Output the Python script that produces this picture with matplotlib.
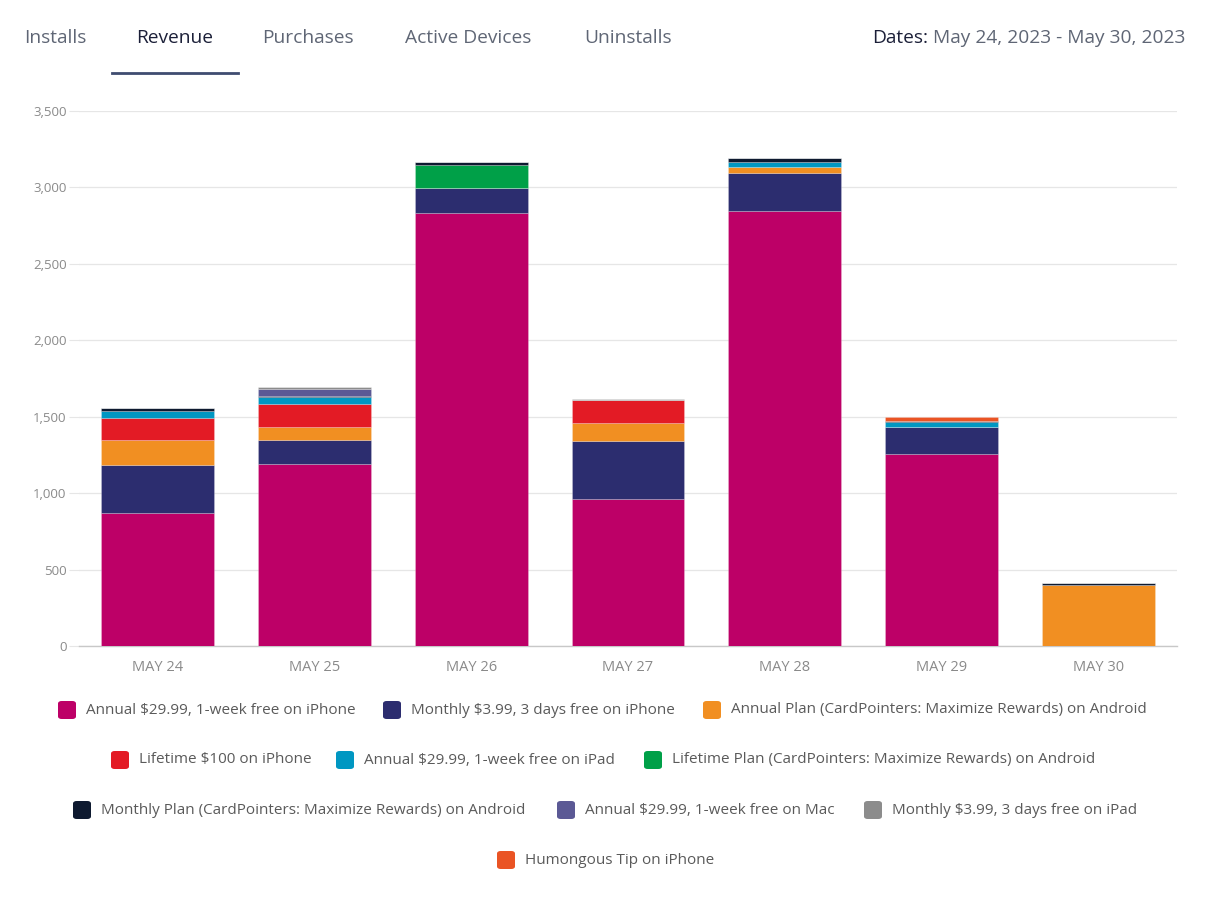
import matplotlib.pyplot as plt
import matplotlib
from matplotlib.patches import FancyBboxPatch
from matplotlib.ticker import FuncFormatter

matplotlib.rcParams.update({'font.family': ['Open Sans', 'DejaVu Sans']})

days = ['MAY 24', 'MAY 25', 'MAY 26', 'MAY 27', 'MAY 28', 'MAY 29', 'MAY 30']

series_names = [
    'Annual $29.99, 1-week free on iPhone',
    'Monthly $3.99, 3 days free on iPhone',
    'Annual Plan (CardPointers: Maximize Rewards) on Android',
    'Lifetime $100 on iPhone',
    'Annual $29.99, 1-week free on iPad',
    'Lifetime Plan (CardPointers: Maximize Rewards) on Android',
    'Monthly Plan (CardPointers: Maximize Rewards) on Android',
    'Annual $29.99, 1-week free on Mac',
    'Monthly $3.99, 3 days free on iPad',
    'Humongous Tip on iPhone',
]

annual_iphone = [870, 1190, 2832, 961, 2845, 1256, 0]
monthly_iphone = [314, 157, 165, 378, 249, 178, 0]
annual_android = [163, 83, 0, 119, 39, 0, 401]
lifetime_iphone = [144, 150, 0, 151, 0, 0, 0]
annual_ipad = [46, 50, 0, 0, 33, 31, 0]
lifetime_android = [0, 0, 151, 0, 0, 0, 0]
monthly_android = [18, 7, 17, 0, 26, 7, 8]
annual_mac = [0, 42, 0, 0, 0, 0, 0]
monthly_ipad = [0, 13, 0, 4, 0, 0, 0]
humongous_tip = [0, 0, 0, 0, 0, 24, 0]

series_values = [annual_iphone, monthly_iphone, annual_android, lifetime_iphone,
                 annual_ipad, lifetime_android, monthly_android, annual_mac,
                 monthly_ipad, humongous_tip]

colors = ['#bd0067', '#2c2d6f', '#f18f22', '#e31b25', '#0097c2', '#00a048',
          '#0e1a30', '#5b5995', '#8c8c8c', '#ea5424']

tabs = ['Installs', 'Revenue', 'Purchases', 'Active Devices', 'Uninstalls']

fig = plt.figure(figsize=(12.09, 9), dpi=100)
W, H = 1209, 900
ax = fig.add_axes([79 / W, 1 - 646 / H, (1177 - 79) / W, (646 - 111) / H])

x = list(range(len(days)))
bottom = [0] * len(days)
for vals, col in zip(series_values, colors):
    ax.bar(x, vals, bottom=bottom, width=0.72, color=col,
           edgecolor=(1, 1, 1, 0.3), linewidth=0.5, zorder=3)
    bottom = [b + v for b, v in zip(bottom, vals)]

ax.set_xlim(-0.5, len(days) - 0.5)
ax.set_ylim(0, 3500)
ax.set_yticks(range(0, 3501, 500))
ax.yaxis.set_major_formatter(FuncFormatter(lambda v, p: f'{int(v):,}'))
ax.set_xticks(x)
ax.set_xticklabels(days)
ax.grid(axis='y', color='#e6e6e6', linewidth=0.9, zorder=0)
for s in ['top', 'right', 'left']:
    ax.spines[s].set_visible(False)
ax.spines['bottom'].set_color('#c8c8c8')
ax.spines['bottom'].set_linewidth(1.0)
ax.tick_params(axis='y', length=7, color='#e6e6e6', labelsize=9.5,
               labelcolor='#8a8a8a', pad=2)
ax.tick_params(axis='x', length=0, labelsize=10.5, labelcolor='#8a8a8a', pad=10)

# header tabs
tab_x = [24, 136, 262, 405, 584]
for t, tx in zip(tabs, tab_x):
    fig.text(tx / W, 1 - 38 / H, t, fontsize=13.8, va='center', ha='left',
             color='#1b1f38' if t == 'Revenue' else '#5f6675')
fig.add_artist(plt.Line2D([112 / W, 238 / W], [1 - 73 / H, 1 - 73 / H],
                          color='#3f4c70', linewidth=2, transform=fig.transFigure))
date_txt = fig.text(1185 / W, 1 - 38 / H, 'May 24, 2023 - May 30, 2023',
                    fontsize=13.8, ha='right', va='center', color='#5f6675')
r = fig.canvas.get_renderer()
bb = date_txt.get_window_extent(renderer=r)
fig.text((bb.x0 - 5) / W, 1 - 38 / H, 'Dates:', fontsize=13.8, ha='right',
         va='center', color='#1b1f38')

# legend rows
legend_pos = [(58, 710), (383, 710), (703, 710),
              (111, 760), (336, 760), (644, 760),
              (73, 810), (557, 810), (864, 810),
              (497, 860)]
for name, col, (lx, ly) in zip(series_names, colors, legend_pos):
    fig.add_artist(FancyBboxPatch((lx / W, 1 - (ly + 9) / H), 18 / W, 18 / H,
                                  boxstyle='round,pad=0,rounding_size=0.003',
                                  facecolor=col, edgecolor='none',
                                  transform=fig.transFigure))
    fig.text((lx + 28) / W, 1 - ly / H, name, fontsize=11, va='center',
             ha='left', color='#5a5a5a')

fig.savefig('out.png', dpi=100)
